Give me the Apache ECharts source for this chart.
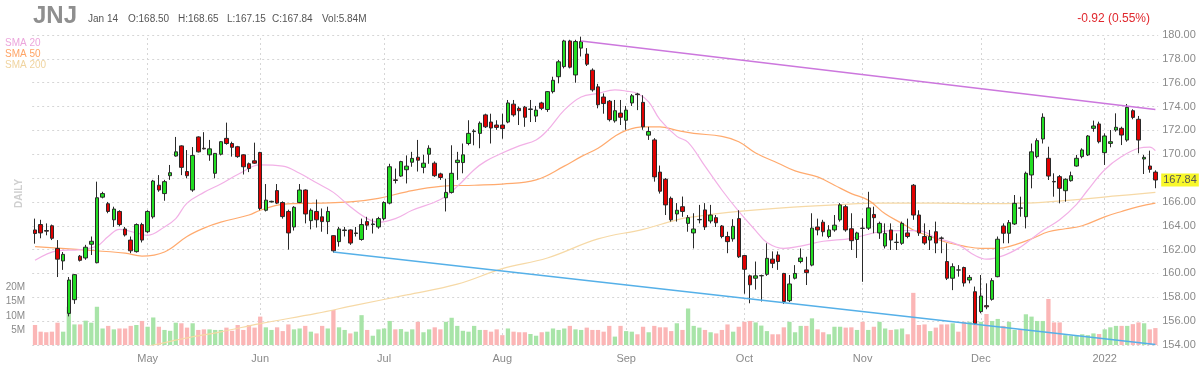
<!DOCTYPE html>
<html><head><meta charset="utf-8">
<script src="https://cdn.jsdelivr.net/npm/echarts/dist/echarts.min.js"></script>
<style>html,body{margin:0;padding:0;background:#fff}#c{width:1200px;height:375px}</style>
</head><body><div id="c"></div>
<script>
// ---- categories: trading days ----
const startDate = '2021-04-05', endDate = '2022-01-14';
const holidays = ['2021-05-31','2021-07-05','2021-09-06','2021-11-25','2021-12-24'];
function tradingDays(){
  const out=[]; let d=new Date(startDate+'T00:00:00Z'); const e=new Date(endDate+'T00:00:00Z');
  while(d<=e){const wd=d.getUTCDay(); const s=d.toISOString().slice(0,10);
    if(wd!==0&&wd!==6&&!holidays.includes(s)) out.push(s); d.setUTCDate(d.getUTCDate()+1);}
  return out;
}
const dates = tradingDays();
const monthTickIdx = [20,40,62,83,105,126,147,168,190];
const monthTickLbl = ['May','Jun','Jul','Aug','Sep','Oct','Nov','Dec','2022'];

// ---- OHLC ----
const opens = [163.65,164.1,163.6,164.0,162.1,161.05,156.65,157.8,161.45,161.3,162.45,160.9,166.4,165.85,164.5,165.2,
163.73,162.8,161.83,164.1,163.5,164.75,167.4,166.7,168.2,169.85,170.7,168.55,167.0,171.45,170.5,169.95,168.4,
170.0,171.33,170.9,170.63,169.95,169.2,169.45,170.15,165.3,166.0,166.95,165.95,165.2,163.9,165.95,167.0,164.43,
165.2,164.75,164.35,163.17,162.67,163.6,163.65,163.35,162.85,164.35,164.1,163.9,164.6,165.9,167.85,168.17,168.7,
169.33,169.75,168.9,170.0,169.25,168.35,166.35,166.8,169.3,169.3,170.9,171.9,171.75,173.3,172.7,172.45,172.45,
172.7,174.2,173.85,173.95,173.75,173.2,174.3,173.75,175.25,176.5,177.35,179.5,176.65,178.9,178.4,177.05,175.65,
174.8,174.45,172.8,173.45,172.85,174.3,175.05,174.35,171.6,171.2,168.5,167.9,166.3,164.99,165.6,164.2,163.4,
164.5,165.33,164.4,164.68,163.98,163.1,162.9,164.6,161.5,159.8,159.6,159.8,159.93,161.2,161.55,160.0,157.72,
159.6,161.0,160.3,160.7,163.9,164.3,163.1,163.65,164.5,165.6,163.75,162.85,163.8,163.8,164.95,163.4,
162.3,163.65,162.6,162.53,163.4,167.4,164.9,163.1,162.8,163.5,162.97,161.0,159.6,160.3,160.5,159.45,158.47,
156.8,157.3,157.83,159.73,163.98,163.37,164.15,165.5,164.76,168.26,169.8,171.28,169.66,167.72,168.12,166.94,167.78,
169.01,169.8,169.94,172.17,172.54,170.13,170.91,172.03,172.17,171.19,173.65,172.93,169.6,169.01,168.50];
const highs = [164.6,164.5,164.2,164.1,162.8,161.8,159.7,159.95,161.55,162.4,163.1,167.7,166.85,166.0,165.6,165.3,
163.9,163.1,164.2,164.25,165.3,167.85,168.25,167.85,169.1,171.45,170.75,170.35,170.6,171.5,171.85,171.2,170.1,
171.1,172.65,171.05,170.7,170.0,169.3,170.97,170.2,167.5,166.1,167.5,166.05,165.35,165.65,167.5,167.05,165.45,
166.2,165.45,165.6,163.2,163.9,163.9,163.7,163.9,164.6,164.75,164.6,164.75,166.05,169.2,168.8,169.45,169.9,
170.2,171.2,169.95,170.75,169.4,168.45,167.95,170.75,170.2,170.9,172.85,172.1,172.75,173.4,173.4,172.85,173.4,
174.55,174.55,174.0,174.05,174.55,174.05,174.4,175.3,176.5,177.9,179.6,179.6,179.6,179.86,178.9,177.2,175.9,
175.1,174.55,174.55,174.55,174.05,175.05,175.15,174.95,172.3,171.35,169.05,168.0,166.45,165.9,166.45,164.9,165.05,
165.75,165.9,165.75,164.9,164.06,163.5,164.55,165.3,161.55,159.9,161.0,159.9,162.53,161.85,161.85,160.05,159.87,
160.7,162.1,161.4,165.05,164.6,164.5,164.05,164.9,165.9,165.75,165.05,163.5,164.62,166.85,165.6,164.35,
164.2,164.2,163.36,164.35,164.6,167.5,165.3,164.2,163.65,164.35,163.1,162.53,160.85,160.7,160.57,159.87,158.9,
159.87,159.17,159.6,163.1,164.2,164.48,166.58,166.44,168.54,170.9,171.33,173.43,170.63,168.4,168.26,167.98,168.54,
169.94,170.5,171.61,172.82,172.73,171.75,172.03,173.43,172.31,174.21,173.77,173.21,169.94,170.3,168.65];
const lows = [162.5,162.95,163.2,162.8,159.7,160.3,156.4,157.45,161.0,161.15,161.55,160.85,166.3,165.05,163.9,163.95,
163.1,161.7,161.75,162.6,163.4,164.6,166.85,166.1,167.85,169.8,168.25,167.98,166.85,170.15,170.4,169.45,167.98,
169.9,170.8,169.8,169.7,168.3,168.5,169.2,165.3,165.2,165.95,165.82,164.6,162.0,163.6,165.9,164.2,163.7,
163.85,163.5,163.3,161.75,162.25,163.1,162.4,163.1,162.75,163.65,163.35,163.75,164.45,165.8,167.55,168.1,167.55,
168.95,168.55,168.4,169.2,168.1,167.85,165.2,166.7,167.85,168.4,170.75,170.75,170.5,172.2,170.9,172.05,171.3,
172.6,173.15,172.45,172.3,172.7,172.7,173.7,173.55,175.1,175.95,177.2,177.2,176.0,178.2,177.4,175.25,173.85,
173.4,172.75,172.65,172.45,172.05,174.05,173.7,172.05,171.2,167.7,166.7,164.9,164.35,164.35,164.75,163.5,162.1,
164.2,163.65,164.2,163.9,162.95,161.7,162.67,161.3,158.3,157.5,158.65,157.65,159.8,160.45,160.3,157.45,157.6,
159.5,160.85,159.03,160.6,163.2,163.1,162.95,163.5,164.35,163.5,161.97,161.3,159.3,163.65,163.37,162.9,
162.1,161.97,161.97,162.4,162.95,164.5,163.15,162.4,161.97,161.7,161.7,159.45,158.6,159.73,158.9,159.17,155.68,
156.66,157.0,157.72,159.68,162.53,162.53,164.07,164.76,163.78,167.14,169.66,170.9,167.84,166.44,165.88,166.02,167.7,
168.96,169.66,169.85,171.89,170.91,169.1,170.58,171.89,170.77,171.05,172.93,170.08,168.34,168.45,167.15];
const closes = [163.35,163.4,163.55,162.95,161.2,161.6,159.45,159.9,161.1,162.2,162.7,166.35,166.7,165.2,165.4,164.1,
163.23,161.9,164.1,162.8,165.2,167.75,167.0,167.7,168.45,170.2,168.9,168.2,169.9,170.2,170.45,170.45,170.07,
171.05,170.9,170.58,169.8,168.95,168.8,169.25,165.45,166.15,166.05,165.9,164.77,163.4,165.55,167.0,164.99,165.3,
164.5,164.35,165.2,161.9,163.73,163.65,162.55,163.4,164.1,164.05,164.15,164.6,165.95,168.95,167.8,169.38,169.0,
169.65,169.5,169.25,170.5,168.2,168.05,166.8,168.4,169.5,169.95,171.75,171.95,172.6,172.3,172.2,172.25,172.15,
174.3,173.3,173.65,173.1,173.8,173.7,173.85,175.25,176.2,177.75,179.5,177.3,179.45,179.45,177.55,175.4,174.15,
174.25,172.9,173.65,173.1,173.7,174.9,175.0,172.3,171.9,168.1,166.9,165.75,164.5,165.3,165.2,164.68,163.73,
164.53,163.9,164.9,164.25,163.1,162.67,163.95,161.4,160.35,159.05,159.8,159.82,161.27,160.85,161.0,157.65,159.12,
160.0,161.3,160.07,163.8,163.65,163.5,163.65,164.05,165.75,163.65,162.75,163.4,163.78,165.5,164.68,164.2,
163.36,162.8,162.62,164.2,163.1,164.9,163.4,162.55,163.1,162.55,162.95,159.6,160.57,160.28,159.2,159.67,155.8,
158.11,157.2,159.4,162.87,163.37,164.26,165.88,165.47,168.4,170.2,171.14,173.1,168.17,167.68,167.14,167.9,168.2,
169.66,170.36,171.53,172.37,171.05,171.53,171.05,172.26,171.61,173.93,173.09,171.19,169.74,168.73,167.84];
// volume, millions
const volumes = [6.9,4.6,4.4,4.6,7.7,4.6,13.2,7.1,7.1,8.4,7.7,13.2,5.7,6.6,5.4,5.7,
5.7,6.6,6.9,8.3,6.3,9.5,6.3,5.2,4.9,7.7,7.5,6.0,7.5,5.2,5.4,5.4,5.2,
5.2,6.0,4.9,6.9,5.2,6.9,6.0,9.8,6.1,5.2,6.1,4.8,7.1,5.4,5.7,6.6,4.6,
4.0,6.6,5.7,12.1,6.1,5.2,4.0,4.6,10.3,5.2,3.2,5.4,5.7,8.3,5.4,5.5,4.6,
5.4,8.0,4.4,5.4,6.1,5.4,8.0,9.4,6.6,4.9,4.6,6.6,5.2,5.2,4.6,5.4,3.4,
5.7,4.6,4.4,4.4,3.8,3.2,4.4,4.6,5.7,5.2,5.7,6.6,5.4,5.2,6.0,5.2,5.2,
4.6,6.6,2.9,6.6,4.8,4.6,3.7,6.3,4.4,6.6,6.1,6.1,4.8,7.5,5.2,12.6,6.6,
6.0,5.2,4.4,4.0,5.2,7.1,4.6,6.3,8.0,8.3,7.8,6.7,4.8,3.7,3.7,6.1,8.0,
4.4,6.6,6.6,9.2,5.4,4.4,3.7,6.3,6.3,6.0,6.1,5.2,8.0,5.2,6.3,8.0,
5.7,5.2,5.4,5.7,3.7,18.0,6.9,7.1,4.8,6.0,7.1,7.1,7.5,4.6,8.0,8.0,8.0,
8.0,10.7,8.3,9.0,6.6,8.0,5.2,5.4,10.6,9.8,8.3,8.3,15.9,7.8,7.8,3.4,3.2,
3.4,3.7,3.4,4.0,3.8,5.4,6.1,6.6,6.6,6.6,7.2,7.8,7.5,5.4,5.84];

// ---- moving averages: [candle index, value] ----
const sma20 = [[0,161.1],[4,161.9],[8,162.0],[11,162.3],[13,163.1],[15,163.7],[18,163.4],[20,163.2],[23,163.9],[25,164.6],[27,165.9],[30,166.8],[33,167.5],[36,168.3],[40,169.1],[44,169.0],[47,168.4],[50,167.6],[53,166.8],[56,165.6],[59,164.6],[61,164.3],[64,164.6],[67,165.3],[72,166.2],[75,167.3],[78,168.7],[80,169.4],[83,170.1],[86,170.7],[89,171.2],[91,172.0],[94,173.7],[97,174.8],[100,175.1],[103,175.4],[105,175.3],[107,175.1],[109,174.4],[111,172.9],[114,171.5],[116,171.0],[119,169.0],[122,167.0],[125,165.2],[128,163.6],[130,162.6],[133,162.1],[136,162.3],[140,162.7],[145,162.95],[150,163.5],[153,163.6],[157,163.6],[160,163.0],[164,162.4],[167,161.5],[169,161.2],[172,161.5],[175,162.2],[177,162.9],[179,163.6],[182,164.5],[185,165.8],[187,167.0],[190,168.7],[193,169.8],[196,170.5],[198,170.6],[199,170.3]];
const sma50 = [[0,162.25],[8,162.0],[16,161.7],[19,161.45],[23,161.8],[27,163.1],[30,163.8],[33,164.3],[38,164.9],[40,165.3],[44,165.8],[50,165.9],[56,166.0],[61,166.3],[66,166.85],[72,167.3],[78,167.4],[83,167.5],[89,167.85],[94,169.0],[97,169.8],[100,170.5],[103,171.5],[105,172.0],[108,172.3],[111,172.3],[114,172.0],[117,171.75],[122,171.5],[125,171.05],[128,170.1],[132,169.25],[135,168.6],[139,168.1],[142,167.4],[145,166.7],[148,166.15],[151,165.0],[154,164.2],[156,163.65],[159,163.1],[162,162.6],[165,162.3],[168,162.1],[171,162.1],[174,162.4],[177,162.9],[180,163.5],[183,163.75],[186,164.0],[190,164.75],[193,165.2],[196,165.6],[199,165.9]];
const sma200 = [[10,153.0],[21,154.0],[27,154.6],[33,155.1],[40,155.8],[50,156.65],[57,157.35],[66,158.2],[75,159.1],[83,160.4],[91,161.3],[100,162.9],[108,163.7],[114,164.5],[117,164.75],[125,165.2],[134,165.55],[142,165.75],[150,165.9],[160,165.9],[168,165.85],[176,165.9],[184,166.15],[192,166.5],[199,166.8]];

// ---- trendlines: [candle index, price] ----
const resistLine = [[97,179.5],[199,173.75]];
const supportLine = [[53,161.8],[199,154.05]];
const lastPrice = 167.84;

const FONT = 'Liberation Sans, Arial, sans-serif';
const chart = echarts.init(document.getElementById('c'), null, {renderer:'canvas'});
const candleData = opens.map((o,i)=>[o, closes[i], lows[i], highs[i]]);
const volData = volumes.map((v,i)=>({value: v*1e6, itemStyle:{color: closes[i]>=opens[i] ? '#a8e4a8' : '#fbb6b6'}}));
const toPts = arr => arr.map(p=>[dates[p[0]], p[1]]);
const lineSeg = (arr, color) => [{coord:[dates[arr[0][0]], arr[0][1]], lineStyle:{color:color, width:1.5, type:'solid'}}, {coord:[dates[arr[1][0]], arr[1][1]]}];

const option = {
  animation: false,
  backgroundColor: '#fff',
  grid: {left: 32.2, right: 41.8, top: 35, bottom: 30, outerBoundsMode: 'none'},
  xAxis: {
    type: 'category', data: dates, boundaryGap: true,
    axisLine: {show:false}, axisTick: {show:false},
    axisLabel: {interval: (i)=>monthTickIdx.includes(i), formatter: (v,i)=>{const k=monthTickIdx.indexOf(i); return k>=0?monthTickLbl[k]:'';},
      color:'#8a8a8a', fontSize:11, fontFamily:FONT, margin:8},
    splitLine: {show:false}
  },
  yAxis: [
    {type:'value', position:'right', min:154, max:180, interval:2, scale:true,
      axisLine:{show:false}, axisTick:{show:false},
      axisLabel:{formatter:(v)=> Math.abs(v-168)<0.001 ? '' : v.toFixed(2), color:'#8a8a8a', fontSize:11, fontFamily:FONT, margin:4},
      splitLine:{show:true, lineStyle:{color:'#d6d6d6', type:[2,3], width:1}}},
    {type:'value', position:'left', min:0, max:107e6, interval:5e6,
      axisLine:{show:false}, axisTick:{show:false}, splitLine:{show:false},
      axisLabel:{formatter:(v)=> (v>0 && v<=20e6) ? (v/1e6)+'M' : '', color:'#8a8a8a', fontSize:10, fontFamily:FONT, margin:7}}
  ],
  series: [
    {type:'bar', yAxisIndex:1, data: volData, barWidth:'76%', z:1, silent:true},
    {type:'line', data: toPts(sma200), smooth:0.4, showSymbol:false, lineStyle:{color:'#f6d9a6', width:1.2}, z:1.5, silent:true,
      markLine:{silent:true, z:0.5, symbol:['none','none'], label:{show:false},
        lineStyle:{color:'#d6d6d6', type:[2,3], width:1},
        data: monthTickIdx.map(i=>({xAxis: dates[i]}))}},
    {type:'line', data: toPts(sma50), smooth:0.4, showSymbol:false, lineStyle:{color:'#ffaa6e', width:1.2}, z:1.5, silent:true},
    {type:'line', data: toPts(sma20), smooth:0.4, showSymbol:false, lineStyle:{color:'#f2b0e6', width:1.2}, z:1.5, silent:true},
    {type:'candlestick', data: candleData, barWidth:4, z:3,
      itemStyle:{color:'#22dd22', color0:'#e00000', borderColor:'#2a2a2a', borderColor0:'#2a2a2a', borderWidth:1},
      markLine:{silent:true, z:5, symbol:['none','none'], label:{show:false},
        data:[lineSeg(resistLine,'#cc77dd'), lineSeg(supportLine,'#55b0e8')]}},
    {type:'line', data: [], silent:true, z:6,
      markLine:{silent:true, z:6, symbol:['none','none'],
        data:[{yAxis:lastPrice, lineStyle:{color:'rgba(0,0,0,0)', width:0},
           label:{show:true, position:'end', distance:3, formatter: lastPrice.toFixed(2), backgroundColor:'#f8f82a', color:'#555', fontSize:11, fontFamily:FONT, padding:[1,2,1,2]}}]}}
  ],
  graphic: [
    {type:'text', left:33, top:4, style:{text:'JNJ', font:'bold 24px '+FONT, fill:'#8f8f8f'}},
    {type:'text', left:88, top:14, style:{text:'Jan 14', font:'10px '+FONT, fill:'#555'}},
    {type:'text', left:128, top:14, style:{text:'O:168.50', font:'10px '+FONT, fill:'#555'}},
    {type:'text', left:178, top:14, style:{text:'H:168.65', font:'10px '+FONT, fill:'#555'}},
    {type:'text', left:227, top:14, style:{text:'L:167.15', font:'10px '+FONT, fill:'#555'}},
    {type:'text', left:272, top:14, style:{text:'C:167.84', font:'10px '+FONT, fill:'#555'}},
    {type:'text', left:322, top:14, style:{text:'Vol:5.84M', font:'10px '+FONT, fill:'#555'}},
    {type:'text', right:50, top:13, style:{text:'-0.92 (0.55%)', font:'12px '+FONT, fill:'#e0282e'}},
    {type:'text', left:5, top:38, style:{text:'SMA 20', font:'10px '+FONT, fill:'#eca6dc'}},
    {type:'text', left:5, top:49, style:{text:'SMA 50', font:'10px '+FONT, fill:'#ffa466'}},
    {type:'text', left:5, top:60, style:{text:'SMA 200', font:'10px '+FONT, fill:'#f0d4a0'}},
    {type:'text', x:14, y:208, rotation:Math.PI/2, style:{text:'DAILY', font:'bold 10px '+FONT, fill:'#cfcfcf'}}
  ]
};
chart.setOption(option);
</script>
</body></html>
